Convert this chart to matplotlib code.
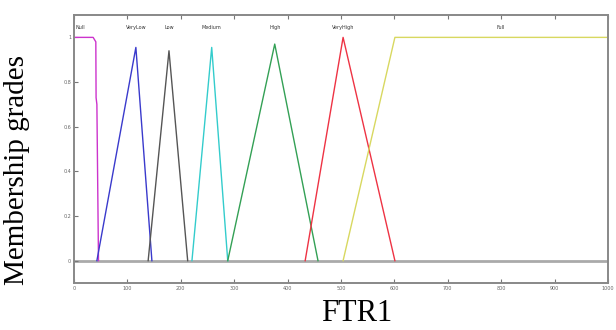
import numpy as np
import matplotlib.pyplot as plt

# membership functions of FTR1 (breakpoints)
mf_names = ['Null', 'VeryLow', 'Low', 'Medium', 'High', 'VeryHigh', 'Full']
mf_x = [
    [0, 36, 41, 41.5, 43, 46],
    [43, 116, 146],
    [139, 178, 213],
    [221, 258, 288],
    [288, 376, 457],
    [433, 504, 601],
    [504, 601, 1000],
]
mf_y = [
    [1, 1, 0.98, 0.73, 0.70, 0],
    [0, 0.955, 0],
    [0, 0.94, 0],
    [0, 0.955, 0],
    [0, 0.97, 0],
    [0, 1.0, 0],
    [0, 1, 1],
]
mf_colors = ['#cc33cc', '#3a3acc', '#555555', '#33cccc', '#33a055', '#ee3344', '#d8d860']
label_x = [3, 116, 178, 258, 376, 504, 800]

x_ticks = np.arange(0, 1001, 100)
y_ticks = [0, 0.2, 0.4, 0.6, 0.8, 1]

fig = plt.figure(figsize=(6.16, 3.30), dpi=100)
ax = fig.add_axes([0.120, 0.1424, 0.867, 0.812])

ax.plot([0, 1000], [0, 0], color='#aaaaaa', lw=2, zorder=1)
for xs, ys, c in zip(mf_x, mf_y, mf_colors):
    ax.plot(xs, ys, color=c, lw=1.0, zorder=2)

for name, lx in zip(mf_names, label_x):
    ha = 'left' if lx < 10 else 'center'
    ax.text(lx, 1.045, name, fontsize=3.5, ha=ha, va='center', color='#333333')

ax.set_xlim(0, 1000)
ax.set_ylim(-0.1, 1.1)
ax.set_xticks(x_ticks)
ax.set_yticks(y_ticks)
ax.set_xticklabels([str(t) for t in x_ticks])
ax.set_yticklabels(['0', '0.2', '0.4', '0.6', '0.8', '1'])
ax.tick_params(direction='in', top=True, labelsize=3.5, labelcolor='#666666',
               color='#777777', length=3, pad=2)
for s in ax.spines.values():
    s.set_color('#888888')
    s.set_linewidth(1.4)

ax.set_ylabel('Membership grades', family='Liberation Serif', fontsize=21)
ax.set_xlabel('FTR1', family='Liberation Serif', fontsize=22)
ax.yaxis.set_label_coords(-0.083, 0.42)
ax.xaxis.set_label_coords(0.53, -0.06)
ax.xaxis.label.set_va('top')

fig.savefig('out.png', dpi=100)
